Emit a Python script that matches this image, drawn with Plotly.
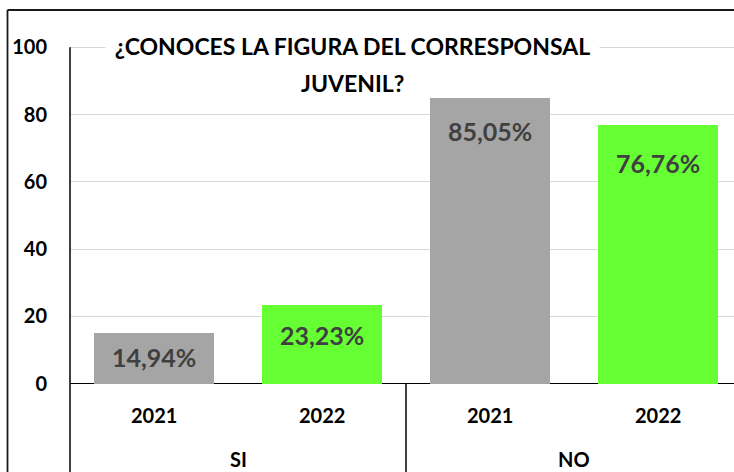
import plotly.graph_objects as go

# ---- data ----
groups = ["SI", "SI", "NO", "NO"]
years = ["2021", "2022", "2021", "2022"]
values = [14.94, 23.23, 85.05, 76.76]
value_labels = ["14,94%", "23,23%", "85,05%", "76,76%"]
group_names = ["SI", "NO"]
y_ticks = [0, 20, 40, 60, 80, 100]
title_lines = ["¿CONOCES LA FIGURA DEL CORRESPONSAL", "JUVENIL?"]

# ---- styles ----
bar_colors = ["#A5A5A5", "#66FF33", "#A5A5A5", "#66FF33"]
label_drop = [24, 30, 33, 38]  # px below bar top for value labels
FONT = "Lato"

W, H = 734, 472
L, R, T, B = 70, 734, 40, 472  # plot area in px
zero_px, hundred_px = 383.5, 47.3
k = (zero_px - hundred_px) / 100.0
ymax = (zero_px - T) / k
ymin = -(B - zero_px) / k
slot = 168.0
first_center = 154.0
xmin = -(first_center - L) / slot
xmax = xmin + (R - L) / slot

def px_x(p):
    return (p - L) / (R - L)

def px_y(p):
    return (B - p) / (B - T)

def data_y_paper(v):
    return (v - ymin) / (ymax - ymin)

def data_x_paper(v):
    return (v - xmin) / (xmax - xmin)

xs = list(range(len(values)))

fig = go.Figure()
fig.add_trace(go.Bar(
    x=xs, y=values, width=119.5 / slot,
    marker=dict(color=bar_colors, line=dict(width=0)),
    hoverinfo="skip",
))

ann = []
for i, (xv, v, lab) in enumerate(zip(xs, values, value_labels)):
    ann.append(dict(x=xv, y=v, xref="x", yref="y", text=lab, showarrow=False,
                    yanchor="middle", yshift=-label_drop[i],
                    font=dict(family=FONT, size=25, color="#404040", weight="bold")))
for xv, yr in zip(xs, years):
    ann.append(dict(x=xv, y=px_y(414.7), xref="x", yref="paper", text=yr,
                    showarrow=False, yanchor="middle",
                    font=dict(family=FONT, size=20, color="black", weight="bold")))
for g in group_names:
    pos = [xv for xv, gg in zip(xs, groups) if gg == g]
    ann.append(dict(x=sum(pos) / len(pos), y=0, xref="x", yref="paper", text=g,
                    showarrow=False, yanchor="bottom", borderpad=0,
                    font=dict(family=FONT, size=20, color="black", weight="bold")))
title_cx = px_x(352.5)
ann.append(dict(x=title_cx, y=px_y(46.5), xref="paper", yref="paper", text=title_lines[0],
                showarrow=False, yanchor="middle", xanchor="center", width=493,
                bgcolor="white", borderpad=0,
                font=dict(family=FONT, size=23, color="black", weight="bold")))
ann.append(dict(x=title_cx, y=px_y(82.5), xref="paper", yref="paper", text=title_lines[1],
                showarrow=False, yanchor="middle", xanchor="center",
                font=dict(family=FONT, size=23, color="black", weight="bold")))

shapes = [
    # outer frame (left and top edges)
    dict(type="line", xref="paper", yref="paper", x0=px_x(7.5), x1=px_x(7.5),
         y0=px_y(10), y1=0, line=dict(color="#1a1a1a", width=1.8)),
    dict(type="line", xref="paper", yref="paper", x0=px_x(7.5), x1=1,
         y0=px_y(10), y1=px_y(10), line=dict(color="#1a1a1a", width=1.8)),
    # value axis line
    dict(type="line", xref="paper", yref="paper", x0=0, x1=0,
         y0=data_y_paper(100), y1=0, line=dict(color="black", width=1.5)),
    # group separator
    dict(type="line", xref="paper", yref="paper", x0=data_x_paper(1.5), x1=data_x_paper(1.5),
         y0=data_y_paper(0), y1=0, line=dict(color="black", width=1.5)),
]

fig.update_layout(
    width=W, height=H, autosize=False,
    margin=dict(l=L, r=W - R, t=T, b=H - B, pad=0),
    paper_bgcolor="white", plot_bgcolor="white",
    showlegend=False, bargap=0,
    annotations=ann, shapes=shapes,
    xaxis=dict(range=[xmin, xmax], showticklabels=False, showgrid=False,
               zeroline=False, showline=False, fixedrange=True),
    yaxis=dict(range=[ymin, ymax], tickvals=y_ticks, ticktext=[str(t) for t in y_ticks],
               showgrid=True, gridcolor="#D9D9D9", gridwidth=1,
               zeroline=True, zerolinecolor="black", zerolinewidth=1.5,
               showline=False, ticks="", ticklabelstandoff=22,
               tickfont=dict(family=FONT, size=20, color="black", weight="bold")),
)

fig.write_html(
    "out.html",
    config={"displayModeBar": False, "staticPlot": True},
    post_script=("document.documentElement.style.overflow='hidden';"
                 "document.body.style.margin='0';document.body.style.overflow='hidden';"),
)
